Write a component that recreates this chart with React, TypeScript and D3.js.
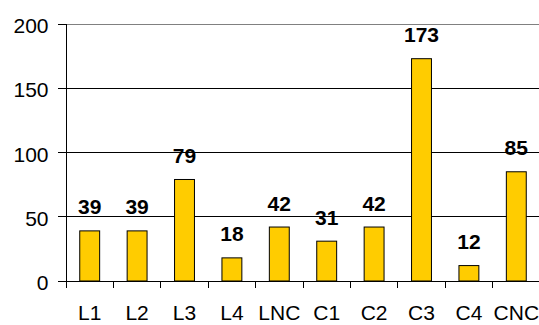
import React from "react";
import * as d3 from "d3";

const categories = ["L1", "L2", "L3", "L4", "LNC", "C1", "C2", "C3", "C4", "CNC"];
const values = [39, 39, 79, 18, 42, 31, 42, 173, 12, 85];
const yTicks = [0, 50, 100, 150, 200];

const W = 539;
const H = 325;
const left = 66;
const right = 540;
const top = 24;
const bottom = 281;
const font = "'Liberation Sans', Arial, sans-serif";

export default function App() {
  const x = d3.scaleBand<string>().domain(categories).range([left, right]).paddingInner(0).paddingOuter(0);
  const y = d3.scaleLinear().domain([0, 200]).range([bottom, top]);
  const bw = x.bandwidth() * 0.42;

  return (
    <svg
      width={W}
      height={H}
      style={{ position: "absolute", left: 0, top: 0, background: "#fff" }}
      fontFamily={font}
    >
      {/* horizontal gridlines */}
      {yTicks.filter((t) => t > 0).map((t) => (
        <line
          key={"g" + t}
          x1={left}
          x2={W}
          y1={y(t)}
          y2={y(t)}
          stroke={t === 200 ? "#808080" : "#000"}
          strokeWidth={1}
          shapeRendering="crispEdges"
        />
      ))}
      {/* bars */}
      {values.map((v, i) => {
        const cx = x(categories[i])! + x.bandwidth() / 2;
        return (
          <g key={"b" + i}>
            <rect
              x={cx - bw / 2}
              y={y(v)}
              width={bw}
              height={y(0) - y(v)}
              fill="#FFCC00"
              stroke="#000"
              strokeWidth={1}
            />
            <text
              x={cx}
              y={y(v) - 16.5}
              textAnchor="middle"
              fontWeight="bold"
              fontSize={21}
              fill="#000"
            >
              {v}
            </text>
            <text x={cx} y={320} textAnchor="middle" fontSize={21} fill="#000">
              {categories[i]}
            </text>
          </g>
        );
      })}
      {/* y axis */}
      <line x1={left} x2={left} y1={top} y2={bottom + 7} stroke="#000" shapeRendering="crispEdges" />
      {yTicks.map((t) => (
        <g key={"t" + t}>
          <line x1={left - 8} x2={left} y1={y(t)} y2={y(t)} stroke="#000" shapeRendering="crispEdges" />
          <text
            x={48.5}
            y={y(t) + 9}
            textAnchor="end"
            fontSize={21}
            fill="#000"
          >
            {t}
          </text>
        </g>
      ))}
      {/* x axis */}
      <line x1={left} x2={W} y1={bottom} y2={bottom} stroke="#000" shapeRendering="crispEdges" />
      {categories.slice(1).map((c) => (
        <line
          key={"xt" + c}
          x1={x(c)!}
          x2={x(c)!}
          y1={bottom}
          y2={bottom + 7}
          stroke="#000"
          shapeRendering="crispEdges"
        />
      ))}
    </svg>
  );
}
